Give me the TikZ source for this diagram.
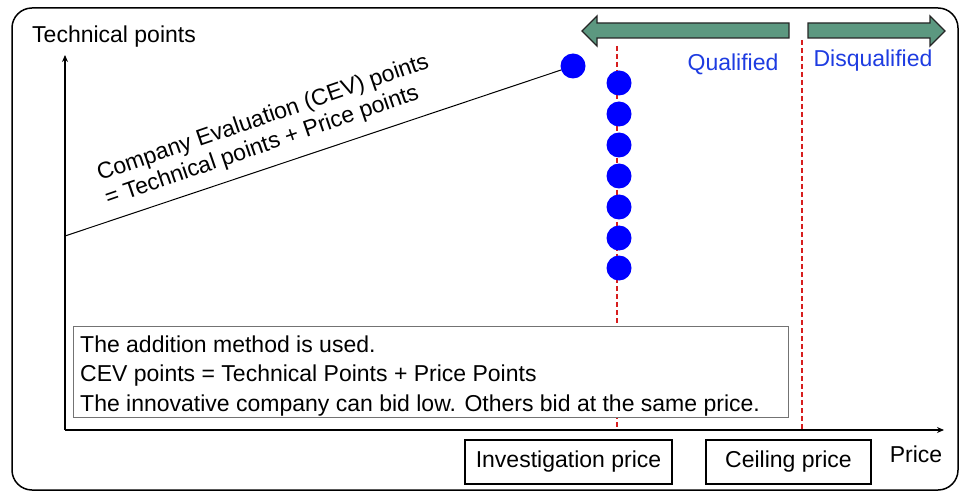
\documentclass[tikz,border=0pt]{standalone}
\usepackage{fontspec}
\setmainfont{Liberation Sans}
\usetikzlibrary{arrows.meta}
\definecolor{bandgreen}{RGB}{92,152,128}
\definecolor{labelblue}{RGB}{30,60,225}
\definecolor{limitred}{RGB}{215,30,30}
\tikzset{
  txt/.style={font=\fontsize{23}{27}\selectfont, inner sep=0pt},
  bluetxt/.style={txt, text=labelblue},
  bid/.style={circle, fill=blue, draw=none, minimum size=25pt, inner sep=0pt},
  limit/.style={draw=limitred, line width=1.4pt, dash pattern=on 5pt off 3pt},
  pricebox/.style={draw, line width=1.6pt, minimum height=44pt, inner sep=0pt, font=\fontsize{23}{27}\selectfont},
  band/.style={draw=black!85, line width=1.3pt, fill=bandgreen, line join=miter},
  axis/.style={line width=1.2pt, -{Stealth[length=7pt,width=6pt]}}
}
\begin{document}
\begin{tikzpicture}[x=1pt, y=-1pt]
\useasboundingbox (0,0) rectangle (960,494);
% outer frame
\draw[line width=1.5pt, rounded corners=20pt] (12,8) rectangle (958,490);

% qualification bands
\draw[band] (582,31) -- (597,16) -- (597,23) -- (789,23) -- (789,38) -- (597,38) -- (597,46) -- cycle;
\draw[band] (945,31) -- (930,16) -- (930,23) -- (808,23) -- (808,38) -- (930,38) -- (930,46) -- cycle;
\node[bluetxt] (qual) at (733,64) {Qualified};
\node[bluetxt] (disq) at (873,61) {Disqualified};

% price limits
\coordinate (invtop) at (617,46);
\coordinate (invbot) at (617,430);
\coordinate (ceiltop) at (802,40);
\coordinate (ceilbot) at (802,430);
\draw[limit] (invtop) -- (invbot);
\draw[limit] (ceiltop) -- (ceilbot);

% axes
\coordinate (O) at (65,430);
\coordinate (ytip) at (65,55);
\coordinate (xtip) at (944,430);
\draw[axis] (O) -- (ytip);
\draw[axis] (O) -- (xtip);
\node[txt, anchor=base west] (ylab) at (32,43) {Technical points};
\node[txt] (xlab) at (916,454) {Price};

% evaluation line and bids
\node[bid] (d0) at (573,66) {};
\foreach \i/\y in {1/83,2/114,3/145,4/176,5/207,6/238,7/268}
  \node[bid] (d\i) at (619,\y) {};
\coordinate (cev0) at (65,236);
\draw[line width=1pt] (cev0) -- (d0);
\node[txt, rotate=19, anchor=base west] (cev1) at (100,181) {Company Evaluation (CEV) points};
\node[txt, rotate=19, anchor=base west] (cev2) at (108,206) {= Technical points + Price points};

% explanation box
\node[draw=black!55, fill=white, line width=0.8pt, minimum width=715pt, minimum height=91pt, inner sep=0pt] (note) at (430.5,371.5) {};
\node[txt, anchor=base west] (n1) at (80,352) {The addition method is used.};
\node[txt, anchor=base west] (n2) at (80,381) {CEV points = Technical Points + Price Points};
\node[txt, anchor=base west] (n3) at (80,411) {The innovative company can bid low. Others bid at the same price.};

% price boxes
\node[pricebox, minimum width=207pt] (inv) at (568.5,462) {Investigation price};
\node[pricebox, minimum width=165pt] (ceil) at (788.5,462) {Ceiling price};
\end{tikzpicture}
\end{document}
